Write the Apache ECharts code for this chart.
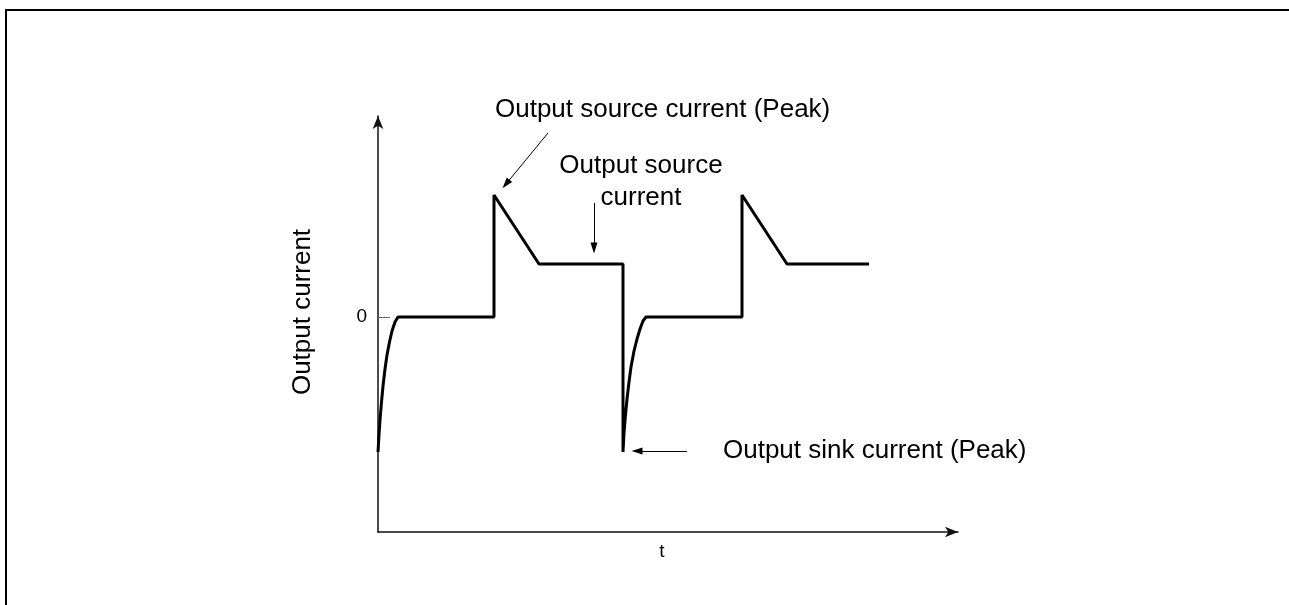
<!DOCTYPE html>
<html>
<head>
<meta charset="utf-8">
<script src="https://cdn.jsdelivr.net/npm/echarts@6/dist/echarts.min.js"></script>
<style>
  html, body { margin: 0; padding: 0; background: #fff; }
  #chart { width: 1289px; height: 605px; }
</style>
</head>
<body>
<div id="chart"></div>
<script>
// output current waveform, t / current in picture units (0 = zero level)
const waveT = [
  0, 0.1, 0.2, 0.35, 0.5, 0.7, 0.9, 1.15, 1.4, 1.7, 2.0,
  11.6, 11.6, 16.1, 24.5,
  24.5, 24.6, 24.75, 24.9, 25.1, 25.3, 25.6, 25.9, 26.2, 26.5, 26.8,
  36.4, 36.4, 40.9, 49.1
];
const waveI = [
  -13.5, -11.8, -10.3, -8.5, -6.9, -5.2, -3.8, -2.5, -1.4, -0.5, 0,
  0, 12.2, 5.3, 5.3,
  -13.5, -11.6, -9.8, -8.2, -6.5, -5.0, -3.4, -2.2, -1.2, -0.4, 0,
  0, 12.2, 5.3, 5.3
];

// annotation arrows: [from, to]
const arrows = [
  [[17.0, 18.4], [12.8, 13.3]],
  [[21.6, 11.4], [21.6, 6.9]],
  [[30.9, -13.4], [25.9, -13.4]]
];
const notes = ['Output source current (Peak)', 'Output source\ncurrent', 'Output sink current (Peak)'];
const noteAt = [[11.7, 20.7], [26.3, 13.5], [34.5, -13.4]];
const noteAlign = ['left', 'center', 'left'];

const FONT = "'Liberation Sans', Arial, sans-serif";
const chart = echarts.init(document.getElementById('chart'));

chart.setOption({
  animation: false,
  grid: { left: 378, right: 331, top: 116, bottom: 73 },
  xAxis: {
    type: 'value', min: 0, max: 58.0,
    name: 't', nameLocation: 'middle', nameGap: 10,
    nameTextStyle: { fontFamily: FONT, fontSize: 19, color: '#000', padding: [0, 12, 0, 0] },
    axisLine: { onZero: false, symbol: ['none', 'arrow'], symbolSize: [8, 13],
      lineStyle: { color: '#111', width: 1.5 } },
    axisTick: { show: false }, axisLabel: { show: false }, splitLine: { show: false }
  },
  yAxis: {
    type: 'value', min: -21.5, max: 20.1,
    name: 'Output current', nameLocation: 'middle', nameGap: 62, nameRotate: 90,
    nameTextStyle: { fontFamily: FONT, fontSize: 26, color: '#000', padding: [0, 0, 0, 24] },
    axisLine: { onZero: false, symbol: ['none', 'arrow'], symbolSize: [8, 13],
      lineStyle: { color: '#111', width: 1.5 } },
    axisTick: { show: true, inside: true, length: 12, customValues: [0],
      lineStyle: { color: '#666', width: 1 } },
    axisLabel: { show: true, customValues: [0], margin: 11,
      fontFamily: FONT, fontSize: 19, color: '#000' },
    splitLine: { show: false }
  },
  series: [{
    type: 'line',
    data: waveT.map((t, i) => [t, waveI[i]]),
    showSymbol: false, clip: false,
    lineStyle: { color: '#000', width: 3 },
    markLine: {
      silent: true, animation: false,
      symbol: ['none', 'triangle'], symbolSize: [7, 11],
      label: { show: false },
      lineStyle: { color: '#000', width: 1, type: 'solid' },
      data: arrows.map(a => [{ coord: a[0] }, { coord: a[1] }])
    }
  }]
});

const texts = notes.map((txt, i) => {
  const p = chart.convertToPixel({ gridIndex: 0 }, noteAt[i]);
  return {
    type: 'text', x: p[0], y: p[1],
    style: { text: txt, fontFamily: FONT, fontSize: 26, fill: '#000',
      align: noteAlign[i], verticalAlign: 'middle', lineHeight: 32 }
  };
});

chart.setOption({
  graphic: [
    { type: 'rect', shape: { x: 6, y: 10, width: 1400, height: 700 },
      style: { fill: 'none', stroke: '#000', lineWidth: 2 } }
  ].concat(texts)
});
</script>
</body>
</html>
